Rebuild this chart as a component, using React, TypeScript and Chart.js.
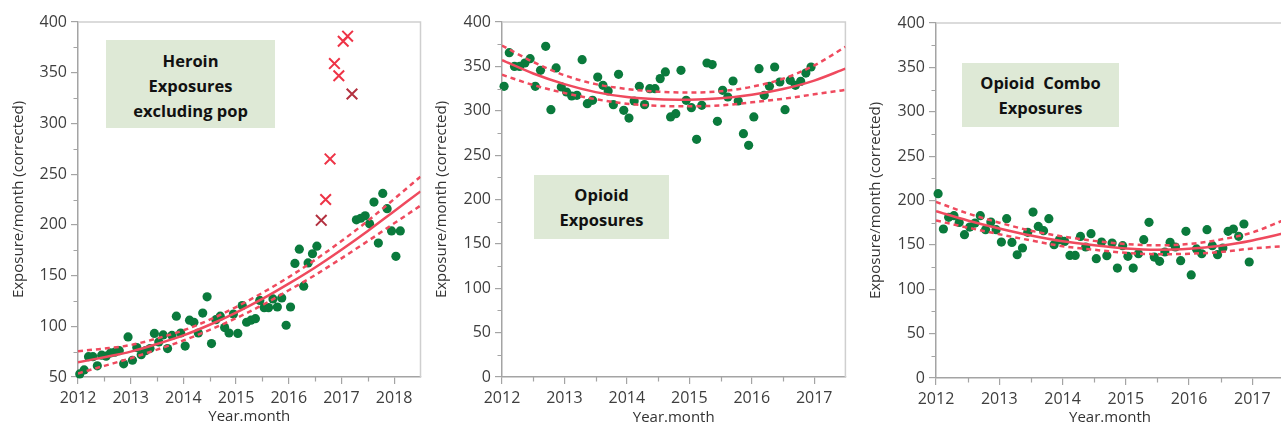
import React, { useEffect, useRef } from "react";
import { Chart, registerables } from "chart.js";

Chart.register(...registerables);

// ---------- data ----------
const FIRST_YEAR = 2012;
const MONTH_OFFSET = 0.4; // point placed within its month

// Heroin exposures (monthly from Jan 2012); null = month shown as excluded point
const heroinIncluded: (number | null)[] = [
  53, 57, 70, 70, 61, 71.5, 70.5, 73.7, 74.5, 76, 63, 89.5,
  66.5, 79, 72, 76, 78, 93, 84.5, 91.5, 78, 91, 110, 93.4,
  80.5, 106, 104, 93.4, 113, 129, 83, 106.5, 110, 98.7, 93.4, 112,
  93, 120.5, 104, 106, 107.5, 125.5, 118.4, 118.4, 127, 119, 128, 101,
  119, 162, 176, 139.5, 162.5, 171.5, 179,
  null, null, null, null, null, null, null, null,
  205, 206.5, 209, 201, 222.5, 182, 231, 216, 194, 169, 194,
];
const HEROIN_EXCLUDED_FROM = 55;
const heroinExcluded = [204.5, 225, 265, 359, 347, 381, 386, 329];
const heroinFitYears = [2012, 2012.5, 2013, 2013.5, 2014, 2014.5, 2015, 2015.5, 2016, 2016.5, 2017, 2017.5, 2018, 2018.5];
const heroinFit = [64.5, 69.5, 75, 82.5, 91, 101.5, 113.5, 127, 142, 158, 175.5, 194, 213.5, 233];
const heroinUpper = [75.5, 78, 81.5, 88, 96, 106.5, 119, 133, 148.5, 165.5, 184, 204, 225.5, 247.5];
const heroinLower = [53.5, 61, 68.5, 77, 86, 96.5, 108, 121, 135.5, 150.5, 167, 184, 201.5, 219];

// Opioid exposures (monthly from Jan 2012)
const opioidMonthly = [
  327.5, 365.4, 350, 350, 353.8, 358.7, 327.5, 345.5, 372.6, 301.2, 348.2, 326.8,
  321.1, 316.6, 317.4, 357.5, 308, 311.7, 338, 328.6, 322.3, 306.9, 341, 300.5,
  291.8, 311, 327.5, 306.9, 324.9, 324.9, 336.2, 343.7, 293, 296.7, 345.5, 311.7,
  303.5, 267.8, 306.1, 353.8, 352, 288.1, 323, 315.5, 333.5, 311, 274.2, 261,
  293, 347.4, 317.4, 327.5, 349.3, 332.4, 301.2, 334.3, 328.6, 333.1, 342.5, 349.3,
];
const fitYears5 = [2012, 2012.5, 2013, 2013.5, 2014, 2014.5, 2015, 2015.5, 2016, 2016.5, 2017, 2017.5];
const opioidFit = [357, 342, 330, 321, 315.5, 313, 312.5, 314, 318, 324.5, 334, 347.5];
const opioidUpper = [373.5, 355, 340, 330, 324.5, 321.5, 320.5, 322, 327, 336, 351, 372];
const opioidLower = [340.5, 329, 320, 313, 308, 305.5, 305, 306, 309.5, 313.5, 318.5, 323.5];

// Opioid combo exposures (monthly from Jan 2012)
const comboMonthly = [
  207.7, 167.9, 181, 182.9, 175.3, 161.5, 170.1, 174.6, 182.9, 167.1, 175.8, 167.1,
  153.2, 179.5, 152.8, 138.9, 146.5, 164.1, 187, 170.8, 166, 179.5, 150.2, 155.8,
  153.9, 138.1, 138.1, 159.5, 147.6, 162.6, 134.4, 153.2, 137.8, 152.1, 123.9, 149.1,
  137.1, 123.9, 140, 155.9, 175.4, 136.3, 131.5, 142, 152.9, 147.6, 132.2, 165.3,
  116.1, 145.4, 140, 167.1, 149.1, 139, 146.5, 165.3, 167.9, 159.6, 173.5, 130.7,
];
const comboFit = [188, 177.5, 168.5, 160.5, 154, 149.5, 146, 144.5, 145.5, 149, 155, 163];
const comboUpper = [198.5, 185.5, 175, 166, 159.5, 154.5, 151, 149.5, 151, 156, 164, 178];
const comboLower = [177.5, 169.5, 162, 155, 148.5, 144.5, 141, 139.5, 140, 142, 146, 148.5];

const Y_TITLE = "Exposure/month (corrected)";
const X_TITLE = "Year.month";

// ---------- style ----------
const GREEN = "#0a7a3c";
const RED = "#ef4a5e";
const X_RED = "#ee3346";
const X_DARK = "#b3303f";
const AXIS = "#a4a4a4";
const FRAME = "#cfcfcf";
const TICK = "#3e3e3e";
const TITLE = "#333333";
const FONT = "'Open Sans', 'DejaVu Sans', sans-serif";
const H = 427;

Chart.defaults.font.family = FONT;

function monthPoints(values: (number | null)[], start = 0) {
  const out: { x: number; y: number }[] = [];
  values.forEach((v, i) => {
    if (v !== null) out.push({ x: FIRST_YEAR + (start + i + MONTH_OFFSET) / 12, y: v });
  });
  return out;
}
function curve(xs: number[], ys: number[]) {
  return xs.map((x, i) => ({ x, y: ys[i] }));
}

const framePlugin = {
  id: "frameMinor",
  beforeDatasetsDraw(chart: any) {
    const { ctx, chartArea: a } = chart;
    ctx.save();
    ctx.strokeStyle = FRAME;
    ctx.lineWidth = 1.5;
    ctx.beginPath();
    ctx.moveTo(a.left, a.top);
    ctx.lineTo(a.right, a.top);
    ctx.lineTo(a.right, a.bottom);
    ctx.stroke();
    ctx.restore();
  },
  afterDraw(chart: any) {
    const { ctx, chartArea: a, scales } = chart;
    const xs = scales.x;
    const ys = scales.y;
    ctx.save();
    ctx.strokeStyle = AXIS;
    ctx.lineWidth = 1.2;
    ctx.beginPath();
    for (let v = ys.min + 25; v < ys.max; v += 50) {
      const py = Math.round(ys.getPixelForValue(v)) + 0.5;
      ctx.moveTo(a.left - 4.5, py);
      ctx.lineTo(a.left, py);
    }
    for (let t = xs.min + 0.5; t < xs.max; t += 1) {
      const px = Math.round(xs.getPixelForValue(t)) + 0.5;
      ctx.moveTo(px, a.bottom);
      ctx.lineTo(px, a.bottom + 4.5);
    }
    ctx.stroke();
    ctx.restore();
  },
};

type Spec = {
  left: number;
  width: number;
  areaLeft: number;
  areaRight: number;
  areaTop: number;
  areaBottom: number;
  yMin: number;
  xMax: number;
  yTitleX: number;
  xTitleY: number;
  dots: { x: number; y: number }[];
  excluded?: { x: number; y: number }[];
  fitX: number[];
  fit: number[];
  upper: number[];
  lower: number[];
};

function buildConfig(s: Spec): any {
  const lineBase = {
    showLine: true,
    borderColor: RED,
    borderWidth: 2.5,
    pointRadius: 0,
    pointHitRadius: 0,
    cubicInterpolationMode: "monotone",
    fill: false,
  };
  const datasets: any[] = [
    { ...lineBase, label: "fit", data: curve(s.fitX, s.fit), order: 0 },
    { ...lineBase, label: "upper", data: curve(s.fitX, s.upper), borderDash: [5, 4], order: 0 },
    { ...lineBase, label: "lower", data: curve(s.fitX, s.lower), borderDash: [5, 4], order: 0 },
    {
      label: "points",
      data: s.dots,
      showLine: false,
      pointRadius: 4.6,
      pointBackgroundColor: GREEN,
      pointBorderColor: GREEN,
      pointBorderWidth: 0,
      clip: false,
      order: 2,
    },
  ];
  if (s.excluded) {
    const n = s.excluded.length;
    datasets.push({
      label: "excluded",
      data: s.excluded,
      showLine: false,
      pointStyle: "crossRot",
      pointRadius: 7.5,
      pointBorderWidth: 2,
      pointBorderColor: s.excluded.map((_, i) => (i === 0 || i === n - 1 ? X_DARK : X_RED)),
      clip: false,
      order: 1,
    });
  }
  const yW = s.areaLeft;
  const xH = H - s.areaBottom;
  return {
    type: "scatter",
    data: { datasets },
    options: {
      responsive: false,
      maintainAspectRatio: false,
      devicePixelRatio: 1,
      animation: false,
      events: [],
      layout: { padding: { left: 0, top: s.areaTop, right: s.width - s.areaRight, bottom: 0 } },
      plugins: { legend: { display: false }, tooltip: { enabled: false } },
      scales: {
        x: {
          type: "linear",
          min: 2012,
          max: s.xMax,
          afterFit: (sc: any) => {
            sc.height = xH;
          },
          ticks: {
            stepSize: 1,
            includeBounds: false,
            autoSkip: false,
            maxRotation: 0,
            padding: 5,
            color: TICK,
            font: { size: 16 },
            callback: (v: any) => String(v),
          },
          grid: { drawOnChartArea: false, tickLength: 7, color: AXIS, lineWidth: 1.2 },
          border: { color: AXIS, width: 1.5 },
          title: {
            display: true,
            text: X_TITLE,
            color: TITLE,
            font: { size: 15 },
            padding: { top: 0, bottom: Math.max(0, H - 11 - s.xTitleY) },
          },
        },
        y: {
          type: "linear",
          min: s.yMin,
          max: 400,
          afterFit: (sc: any) => {
            sc.width = yW;
          },
          ticks: {
            stepSize: 50,
            autoSkip: false,
            padding: 4,
            color: TICK,
            font: { size: 16 },
            callback: (v: any) => String(v),
          },
          grid: { drawOnChartArea: false, tickLength: 7, color: AXIS, lineWidth: 1.2 },
          border: { color: AXIS, width: 1.5 },
          title: {
            display: true,
            text: Y_TITLE,
            color: TITLE,
            font: { size: 15 },
            padding: { top: Math.max(0, s.yTitleX - 9), bottom: 0 },
          },
        },
      },
    },
    plugins: [framePlugin],
  };
}

function Panel({ spec }: { spec: Spec }) {
  const ref = useRef<HTMLCanvasElement | null>(null);
  useEffect(() => {
    if (!ref.current) return;
    const chart = new Chart(ref.current, buildConfig(spec));
    return () => chart.destroy();
  }, [spec]);
  return (
    <div style={{ position: "absolute", left: spec.left, top: 0, width: spec.width, height: H }}>
      <canvas ref={ref} width={spec.width} height={H} style={{ display: "block", width: spec.width, height: H }} />
    </div>
  );
}

const panel1: Spec = {
  left: 0, width: 430, areaLeft: 78, areaRight: 425, areaTop: 22, areaBottom: 377,
  yMin: 50, xMax: 2018.5, yTitleX: 18.5, xTitleY: 415,
  dots: monthPoints(heroinIncluded),
  excluded: monthPoints(heroinExcluded, HEROIN_EXCLUDED_FROM),
  fitX: heroinFitYears, fit: heroinFit, upper: heroinUpper, lower: heroinLower,
};
const panel2: Spec = {
  left: 430, width: 420, areaLeft: 72, areaRight: 419, areaTop: 22, areaBottom: 377,
  yMin: 0, xMax: 2017.5, yTitleX: 11.5, xTitleY: 416,
  dots: monthPoints(opioidMonthly),
  fitX: fitYears5, fit: opioidFit, upper: opioidUpper, lower: opioidLower,
};
const panel3: Spec = {
  left: 850, width: 440, areaLeft: 86, areaRight: 434, areaTop: 23, areaBottom: 378,
  yMin: 0, xMax: 2017.5, yTitleX: 25.5, xTitleY: 418,
  dots: monthPoints(comboMonthly),
  fitX: fitYears5, fit: comboFit, upper: comboUpper, lower: comboLower,
};

function Note({ left, top, width, height, padTop, lines }: { left: number; top: number; width: number; height: number; padTop: number; lines: string[] }) {
  return (
    <div
      style={{
        position: "absolute",
        left,
        top,
        width,
        height,
        boxSizing: "border-box",
        paddingTop: padTop,
        background: "#dee9d6",
        color: "#111",
        fontFamily: FONT,
        fontWeight: 700,
        fontSize: 16.5,
        lineHeight: "25px",
        textAlign: "center",
        whiteSpace: "pre",
      }}
    >
      {lines.map((l, i) => (
        <div key={i}>{l}</div>
      ))}
    </div>
  );
}

export default function App() {
  return (
    <div style={{ position: "fixed", left: 0, top: 0, width: 1281, height: H, overflow: "hidden", background: "#fff" }}>
      <Panel spec={panel1} />
      <Panel spec={panel2} />
      <Panel spec={panel3} />
      <Note left={106} top={40} width={169} height={88} padTop={8} lines={["Heroin", "Exposures", "excluding pop"]} />
      <Note left={534} top={175} width={135} height={64} padTop={7} lines={["Opioid", "Exposures"]} />
      <Note left={962} top={63} width={157} height={64} padTop={7} lines={["Opioid  Combo", "Exposures"]} />
    </div>
  );
}
